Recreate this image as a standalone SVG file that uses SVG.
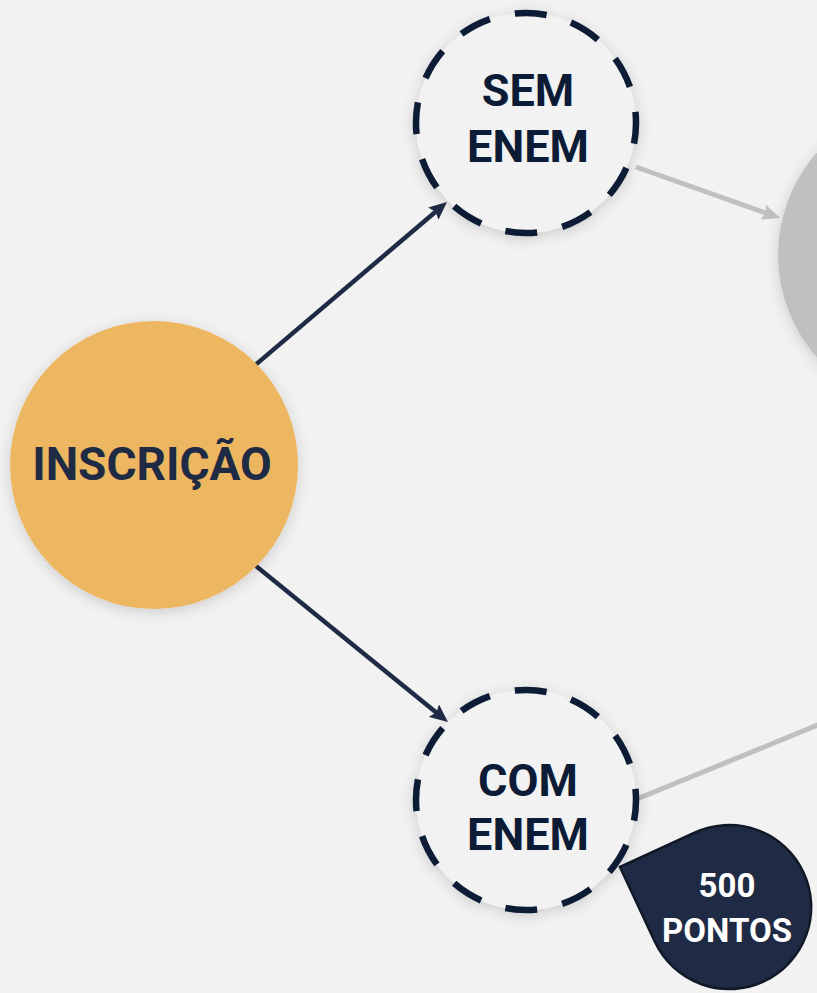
<svg xmlns="http://www.w3.org/2000/svg" width="817" height="993" viewBox="0 0 817 993">
  <defs>
    <filter id="shadow" x="-30%" y="-30%" width="160%" height="160%">
      <feDropShadow dx="0" dy="3" stdDeviation="7" flood-color="#000" flood-opacity="0.16"/>
    </filter>
    <marker id="arrowDark" markerUnits="userSpaceOnUse" markerWidth="20" markerHeight="16" refX="8" refY="8" orient="auto">
      <path d="M0,0 L18,8 L0,16 L3,8 Z" fill="#1F2A44"/>
    </marker>
    <marker id="arrowGray" markerUnits="userSpaceOnUse" markerWidth="20" markerHeight="16" refX="8" refY="8" orient="auto">
      <path d="M0,0 L18,8 L0,16 L3,8 Z" fill="#C0C0C0"/>
    </marker>
    <style>
      .label { font-family: Roboto, "Liberation Sans", sans-serif; font-weight: 700; text-anchor: middle; }
      .dashed { fill: #F2F2F2; stroke: #0C1B36; stroke-width: 6.5; stroke-dasharray: 16.7 13.3; stroke-dashoffset: 5.9; }
      .dark { stroke: #1F2A44; stroke-width: 4.5; fill: none; }
      .gray { stroke: #C0C0C0; stroke-width: 5; fill: none; }
    </style>
  </defs>
  <rect width="817" height="993" fill="#F2F2F2"/>

  <g id="connectors">
    <line class="dark" x1="240" y1="378" x2="439.4" y2="208.5" marker-end="url(#arrowDark)"/>
    <line class="dark" x1="240" y1="553" x2="440.2" y2="715.7" marker-end="url(#arrowDark)"/>
    <line class="gray" x1="636" y1="167" x2="770.6" y2="214.7" marker-end="url(#arrowGray)"/>
    <line class="gray" x1="637" y1="799" x2="830" y2="720" stroke-width="4"/>
  </g>

  <g id="node-gray">
    <circle cx="933" cy="255" r="155" fill="#C0C0C0" filter="url(#shadow)"/>
  </g>

  <g id="node-inscricao">
    <circle cx="154" cy="465" r="144" fill="#EDB661" filter="url(#shadow)"/>
    <text class="label" x="152" y="480" font-size="46" fill="#1F2A44">INSCRIÇÃO</text>
  </g>

  <g id="node-sem-enem">
    <circle class="dashed" cx="526" cy="123" r="110" pathLength="360" filter="url(#shadow)"/>
    <text class="label" x="528" y="106" font-size="45" fill="#0C1B36">SEM</text>
    <text class="label" x="528" y="162" font-size="45" fill="#0C1B36">ENEM</text>
  </g>

  <g id="node-com-enem">
    <circle class="dashed" cx="526" cy="800" r="110" pathLength="360" filter="url(#shadow)"/>
    <text class="label" x="528" y="796" font-size="45" fill="#0C1B36">COM</text>
    <text class="label" x="528" y="850" font-size="45" fill="#0C1B36">ENEM</text>
  </g>

  <g id="node-500-pontos">
    <path d="M620,867 L694,833 A82,82 0 1 1 655,942 Z" fill="#1F2A44" stroke="#111827" stroke-width="2.5"/>
    <text class="label" x="727" y="897" font-size="33" fill="#FFFFFF">500</text>
    <text class="label" x="727" y="942" font-size="33" fill="#FFFFFF">PONTOS</text>
  </g>
</svg>
